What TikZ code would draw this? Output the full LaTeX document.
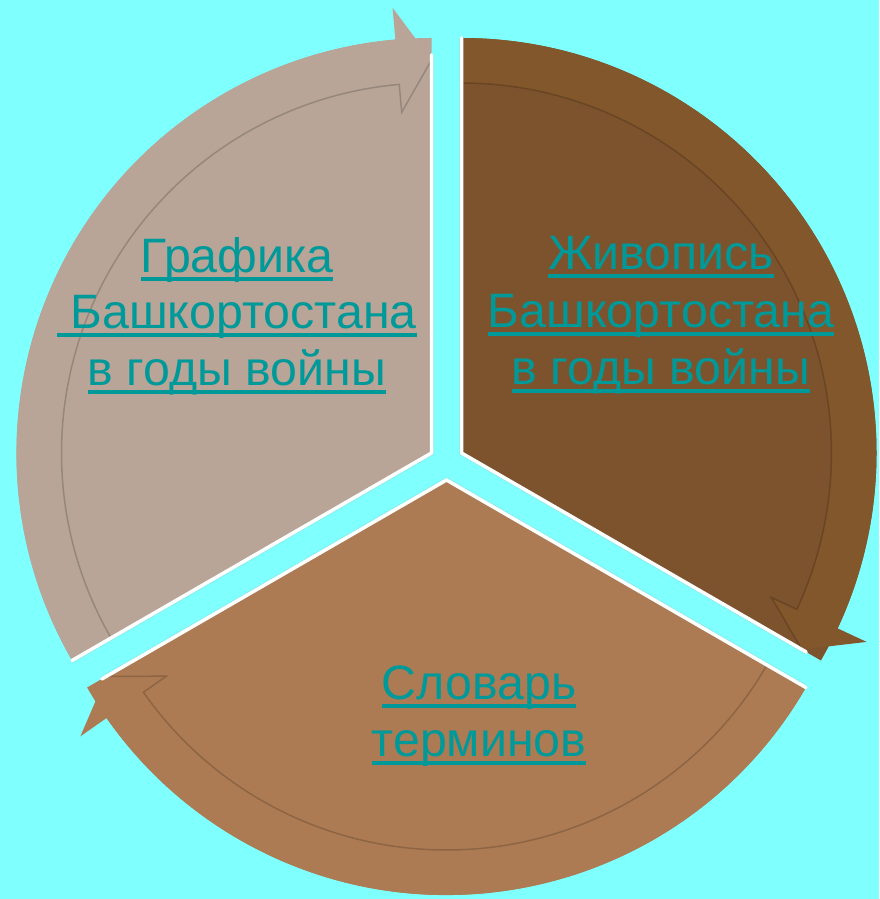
\documentclass[tikz,border=0pt]{standalone}
\usepackage{fontspec}
\setmainfont{Liberation Sans}
\definecolor{bgc}{HTML}{80FFFF}
\definecolor{cleft}{HTML}{B8A598}
\definecolor{cright}{HTML}{7D532D}
\definecolor{crightband}{HTML}{83572C}
\definecolor{cbottom}{HTML}{AD7B53}
\definecolor{lnk}{HTML}{009999}
\newsavebox\ulbox
\newcommand\myul[1]{\sbox\ulbox{#1}\rlap{\rule[-8pt]{\wd\ulbox}{3.5pt}}\usebox\ulbox}
\tikzset{
  edge/.style={draw=white,line width=3.5pt,line cap=round,line join=round},
  shadowedge/.style={draw=black!35,line width=5pt,opacity=0.25,line join=round},
  fold/.style={draw=black,line width=1.5pt,opacity=0.18},
  txt/.style={text=lnk,font=\fontsize{48.3}{56}\selectfont,inner sep=0pt,anchor=base}
}
\begin{document}
\begin{tikzpicture}[x=1pt,y=1pt]
\useasboundingbox (0,0) rectangle (879,899);
\fill[bgc] (0,0) rectangle (879,899);
\clip (0,0) rectangle (879,899);
% left sector
\begin{scope}[shift={(431.5,446)}]
  \draw[shadowedge] (210:415) -- (0,0) -- (90:398);
  \fill[cleft] (0,0) -- (210:415) arc[start angle=210,end angle=90,radius=415] -- cycle;
  \fill[cleft] (210:370) arc[start angle=210,end angle=95,radius=370] -- (95:342) -- (90:393) -- (95:447) -- (95:415) arc[start angle=95,end angle=210,radius=415] -- cycle;
  \draw[fold] (210:370) arc[start angle=210,end angle=95,radius=370] -- (95:342) -- (90:393);
  \draw[edge] (210:415) -- (0,0) -- (90:398);
\end{scope}
% right sector
\begin{scope}[shift={(461.5,446)}]
  \draw[shadowedge] (90:415) -- (0,0) -- (-30:398);
  \fill[cright] (0,0) -- (90:415) arc[start angle=90,end angle=-30,radius=415] -- cycle;
  \fill[crightband] (90:370) arc[start angle=90,end angle=-25,radius=370] -- (-25:342) -- (-30:393) -- (-25:447) -- (-25:415) arc[start angle=-25,end angle=90,radius=415] -- cycle;
  \draw[fold] (90:370) arc[start angle=90,end angle=-25,radius=370] -- (-25:342) -- (-30:393);
  \draw[edge] (90:415) -- (0,0) -- (-30:398);
\end{scope}
% bottom sector
\begin{scope}[shift={(446.5,419)}]
  \draw[shadowedge] (330:415) -- (0,0) -- (210:398);
  \fill[cbottom] (0,0) -- (330:415) arc[start angle=330,end angle=210,radius=415] -- cycle;
  \fill[cbottom] (330:370) arc[start angle=330,end angle=215,radius=370] -- (215:342) -- (210:393) -- (215:447) -- (215:415) arc[start angle=215,end angle=330,radius=415] -- cycle;
  \draw[fold] (330:370) arc[start angle=330,end angle=215,radius=370] -- (215:342) -- (210:393);
  \draw[edge] (330:415) -- (0,0) -- (210:398);
\end{scope}
% texts
\node[txt] (g1) at (237,626) {\myul{Графика}};
\node[txt] (g2) at (237,570) {\myul{\ Башкортостана}};
\node[txt] (g3) at (237,513) {\myul{в годы войны}};
\node[txt] (z1) at (661,629) {\myul{Живопись}};
\node[txt] (z2) at (661,571) {\myul{Башкортостана}};
\node[txt] (z3) at (661,514) {\myul{в годы войны}};
\node[txt] (s1) at (479,199) {\myul{Словарь}};
\node[txt] (s2) at (479,142) {\myul{терминов}};
\end{tikzpicture}
\end{document}
